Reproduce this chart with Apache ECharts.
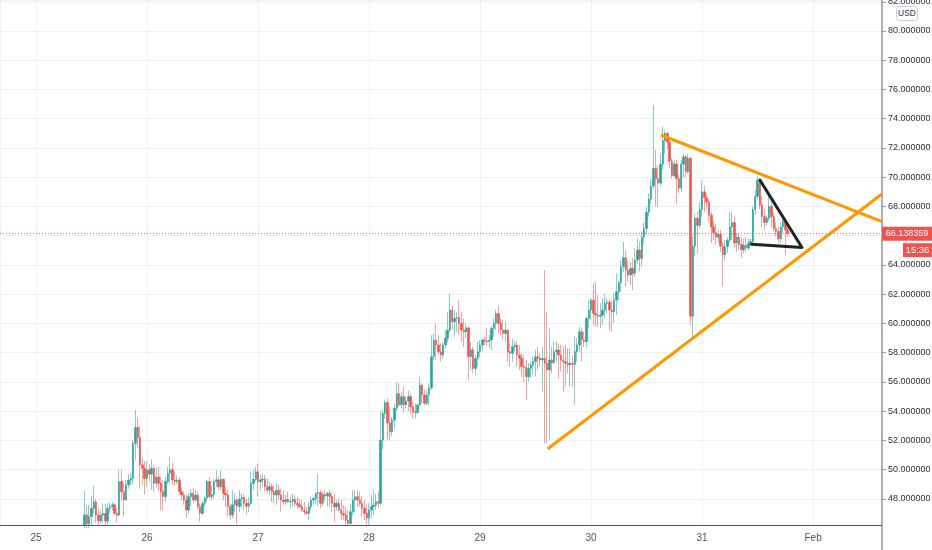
<!DOCTYPE html>
<html><head><meta charset="utf-8">
<script src="https://cdn.jsdelivr.net/npm/echarts@6/dist/echarts.min.js"></script>
<style>html,body{margin:0;padding:0;background:#fff}#c{width:932px;height:550px}</style>
</head><body><div id="c"></div>
<script>
// 30-minute candles [open, close, low, high]; hours counted from 25 Jan 00:00
const firstHour = 10.5;
const day25 = [
[46.22,46.91,46.0,48.57],[46.91,46.29,46.0,47.5],[46.29,46.8,46.0,47.6],[46.8,47.36,46.2,48.2],
[47.36,47.8,47.0,48.9],[47.8,46.9,46.35,48.0],[46.9,46.5,46.2,47.3],[46.5,46.9,46.3,47.2],
[46.9,47.0,46.4,47.7],[47.0,46.5,46.2,47.65],[46.5,47.36,46.3,47.7],[47.36,47.48,47.0,47.75],
[47.48,47.6,47.2,47.8],[47.6,47.02,46.9,47.7],[47.02,46.9,46.4,47.4],[46.9,49.2,46.8,50.0],
[49.2,48.5,47.9,50.0],[48.5,47.93,46.8,49.1],[47.93,48.96,47.9,49.3],[48.96,49.3,48.7,49.7],
[49.3,49.4,48.9,49.8],[49.4,51.8,49.0,52.0],[51.8,52.9,50.7,54.1],[52.9,52.2,51.5,53.6],
[52.2,50.33,48.7,53.0],[50.33,50.1,48.95,50.8],[50.1,49.4,48.3,50.6]
];
const day26 = [
[49.4,50.0,48.8,50.6],[50.0,49.7,49.2,50.4],[49.7,50.1,48.6,50.7],[50.1,49.07,48.5,50.3],
[49.07,49.5,48.8,50.2],[49.5,49.07,48.6,50.2],[49.07,48.5,47.25,49.5],[48.5,48.16,47.25,49.3],
[48.16,49.2,47.8,49.5],[49.2,49.76,49.0,50.2],[49.76,50.0,49.1,50.9],[50.0,49.3,48.95,50.55],
[49.3,49.2,48.9,49.9],[49.2,49.3,49.0,49.6],[49.3,48.5,48.3,49.5],[48.5,48.27,47.9,48.8],
[48.27,47.93,47.6,48.5],[47.93,47.25,46.7,48.3],[47.25,48.16,47.0,48.4],[48.16,48.39,47.5,48.65],
[48.39,47.93,47.7,48.75],[47.93,48.27,47.8,48.6],[48.27,47.48,47.3,48.5],[47.48,47.02,46.45,47.7],
[47.02,47.7,46.9,47.9],[47.7,48.05,47.5,48.2],[48.05,49.2,47.8,49.3],[49.2,48.16,48.0,49.5],
[48.16,48.3,47.9,48.9],[48.3,49.2,48.0,49.4],[49.2,49.3,48.8,49.95],[49.3,48.84,48.6,49.5],
[48.84,49.34,48.6,49.93],[49.34,48.38,47.93,49.4],[48.38,48.27,47.47,48.84],[48.27,47.47,46.79,48.6],
[47.47,46.9,46.6,47.7],[46.9,47.6,46.7,48.6],[47.6,47.9,47.1,48.4],[47.9,47.5,46.3,48.1],
[47.5,48.0,47.1,48.6],[48.0,48.1,47.4,48.4],[48.1,47.7,47.2,48.3],[47.7,47.5,46.9,48.0],
[47.5,47.7,47.1,48.1],[47.7,49.07,47.6,49.86],[49.07,49.34,48.6,50.0],[49.34,49.86,49.2,50.2]
];
const day27 = [
[49.86,49.18,48.16,50.43],[49.18,49.3,48.6,49.64],[49.3,49.35,48.84,49.75],[49.35,48.84,48.5,49.64],
[48.84,48.6,48.38,49.4],[48.6,48.84,48.27,49.18],[48.84,48.5,47.8,49.07],[48.5,48.27,47.7,48.95],
[48.27,48.6,47.6,49.07],[48.6,48.27,47.93,48.95],[48.27,47.93,47.13,48.72],[47.93,47.81,47.6,48.61],
[47.81,47.97,47.6,48.3],[47.97,47.81,47.7,48.5],[47.81,47.84,47.35,48.16],[47.84,47.97,47.47,48.38],
[47.97,47.7,47.47,48.27],[47.7,47.6,47.36,48.16],[47.6,47.47,47.36,48.04],[47.47,47.24,47.13,47.93],
[47.24,47.13,46.9,47.81],[47.13,47.02,46.9,47.47],[47.02,47.47,46.56,47.81],[47.47,47.93,47.24,48.16],
[47.93,48.04,47.58,48.16],[48.04,48.38,47.7,48.45],[48.38,48.43,47.47,49.75],[48.43,47.7,47.36,48.61],
[47.7,48.3,47.5,48.5],[48.3,48.2,47.9,48.6],[48.2,48.38,47.5,48.5],[48.38,48.16,47.47,48.61],
[48.16,47.7,47.13,48.5],[47.7,47.47,46.45,48.38],[47.47,47.7,47.2,47.9],[47.7,47.24,47.13,48.04],
[47.24,47.02,46.56,47.93],[47.02,46.9,46.56,47.58],[46.9,46.56,46.22,47.47],[46.56,46.33,46.1,47.24],
[46.33,47.13,46.2,47.7],[47.13,47.93,46.9,48.61],[47.93,48.16,47.02,48.61],[48.16,47.93,47.47,48.61],
[47.93,47.7,47.47,48.5],[47.7,47.36,46.79,48.16],[47.36,47.02,46.56,47.93],[47.02,46.7,46.1,47.6]
];
const day28 = [
[46.7,47.24,46.2,47.7],[47.24,47.47,46.7,48.27],[47.47,47.58,46.9,48.61],[47.58,47.81,47.24,48.38],
[47.81,47.7,47.36,48.5],[47.7,52.03,47.6,54.0],[52.03,53.85,51.35,54.1],[53.85,54.6,53.5,54.8],
[54.6,53.2,52.03,54.9],[53.2,52.6,52.03,54.3],[52.6,53.4,52.3,53.6],[53.4,54.2,52.8,54.5],
[54.2,55.2,54.0,56.0],[55.2,54.45,54.3,55.9],[54.45,55.0,54.2,55.3],[55.0,54.45,53.95,55.7],
[54.45,54.7,54.2,55.0],[54.7,55.0,54.0,55.4],[55.0,54.3,53.85,55.2],[54.3,53.97,53.51,54.65],
[53.97,53.9,53.5,54.5],[53.9,54.42,53.85,54.54],[54.42,55.79,54.3,56.36],[55.79,55.11,54.54,55.9],
[55.11,54.54,54.4,55.5],[54.54,55.11,54.42,55.45],[55.11,55.6,54.42,55.9],[55.6,57.73,55.45,59.21],
[57.73,58.87,57.5,59.3],[58.87,58.53,57.5,60.01],[58.53,58.07,57.84,59.21],[58.07,57.84,57.39,58.64],
[57.84,58.53,57.6,58.75],[58.53,58.98,58.3,59.55],[58.98,59.55,58.7,60.8],[59.55,60.92,59.4,62.06],
[60.92,60.12,59.55,61.26],[60.12,60.35,59.1,60.92],[60.35,60.4,59.4,60.8],[60.4,60.01,59.21,61.6],
[60.01,59.55,58.75,60.8],[59.55,59.44,58.41,60.35],[59.44,59.7,59.0,60.0],[59.7,57.73,56.13,59.78],
[57.73,58.2,56.82,58.75],[58.2,56.93,56.6,58.4],[56.93,57.61,56.47,57.84],[57.61,58.07,57.04,58.75]
];
const day29 = [
[58.07,58.53,57.73,58.87],[58.53,58.87,58.07,58.98],[58.87,58.8,58.5,59.1],[58.8,58.75,58.41,59.67],
[58.75,58.87,58.3,59.21],[58.87,59.67,58.18,59.8],[59.67,60.01,59.1,60.35],[60.01,60.69,59.55,60.92],
[60.69,60.01,59.32,61.2],[60.01,59.55,59.21,60.35],[59.55,59.32,58.87,60.24],[59.32,59.55,58.75,60.1],
[59.55,58.07,57.39,59.6],[58.07,57.96,57.04,58.64],[57.96,58.41,57.39,58.98],[58.41,58.53,58.1,58.8],
[58.53,57.84,57.05,58.76],[57.84,57.62,56.82,58.53],[57.62,57.05,56.36,57.96],[57.05,57.0,56.02,57.84],
[57.0,56.36,54.77,57.5],[56.36,56.93,56.02,57.28],[56.93,57.16,56.25,57.39],[57.16,57.39,56.48,57.73],
[57.39,57.73,56.36,58.19],[57.73,57.62,56.82,58.41],[57.62,57.5,57.05,57.96],[57.5,57.62,55.34,58.41],
[57.62,57.28,51.8,63.66],[57.28,56.82,51.8,60.8],[56.82,57.5,52.03,59.67],[57.5,57.3,56.59,58.41],
[57.3,58.07,57.28,58.76],[58.07,58.19,57.39,58.76],[58.19,57.84,56.25,58.64],[57.84,57.5,56.7,58.53],
[57.5,57.39,55.34,58.41],[57.39,57.28,55.68,58.53],[57.28,57.16,56.59,58.3],[57.16,57.28,55.68,58.3],
[57.28,57.2,55.68,57.84],[57.2,58.07,54.43,59.1],[58.07,58.53,57.39,58.98],[58.53,59.44,58.07,59.78],
[59.44,58.87,57.39,59.67],[58.87,58.76,58.41,59.44],[58.76,60.35,58.3,60.47],[60.35,60.92,59.67,61.6]
];
const day30 = [
[60.92,61.6,60.24,61.72],[61.6,60.69,59.9,62.75],[60.69,60.58,59.78,62.86],[60.58,60.5,59.78,61.95],
[60.5,60.58,59.67,61.38],[60.58,60.92,59.9,61.72],[60.92,61.38,60.35,62.06],[61.38,61.45,60.69,61.72],
[61.45,60.92,59.55,61.72],[60.92,60.81,59.44,61.6],[60.81,61.6,60.01,62.06],[61.6,62.17,60.58,63.43],
[62.17,62.8,61.6,62.97],[62.8,63.88,62.17,64.34],[63.88,64.5,63.54,65.6],[64.5,63.66,62.52,65.02],
[63.66,63.31,62.86,64.23],[63.31,63.77,62.63,64.23],[63.77,63.43,62.29,64.45],[63.43,64.34,63.2,65.14],
[64.34,65.02,64.1,65.82],[65.02,64.45,63.54,65.6],[64.45,65.9,63.9,66.3],[65.9,66.5,65.4,66.9],
[66.5,67.6,66.1,68.0],[67.6,68.5,67.3,68.9],[68.5,69.4,68.2,69.9],[69.4,70.6,69.2,74.94],
[70.6,69.9,68.0,71.86],[69.9,69.6,67.99,70.8],[69.6,70.9,69.4,71.6],[70.9,72.5,70.5,73.46],
[72.5,73.0,71.6,73.2],[73.0,72.4,71.9,73.1],[72.4,71.1,70.6,72.6],[71.1,70.1,69.9,71.3],
[70.1,70.9,70.0,71.2],[70.9,69.9,68.2,71.2],[69.9,69.25,68.9,70.2],[69.25,70.9,69.0,71.2],
[70.9,71.4,70.0,71.6],[71.4,70.4,70.0,71.5],[70.4,71.3,70.2,71.6],[71.3,60.5,59.9,71.4],
[60.5,65.3,58.9,66.0],[65.3,67.2,64.6,67.5],[67.2,66.7,64.8,67.65],[66.7,67.8,66.5,68.3]
];
const day31 = [
[67.8,69.0,67.3,69.8],[69.0,68.6,67.6,69.4],[68.6,68.3,67.8,68.9],[68.3,67.4,66.9,68.5],
[67.4,66.6,65.5,67.6],[66.6,66.2,65.7,67.0],[66.2,65.9,65.4,66.8],[65.9,66.1,65.5,66.4],
[66.1,65.3,64.9,66.4],[65.3,64.7,62.6,65.6],[64.7,65.25,64.3,65.7],[65.25,65.7,64.8,65.9],
[65.7,66.6,65.5,67.65],[66.6,66.9,65.7,67.6],[66.9,65.5,65.2,67.3],[65.5,65.9,64.9,66.2],
[65.9,65.4,65.0,66.2],[65.4,65.05,64.5,65.9],[65.05,65.35,64.8,65.8],[65.35,65.15,64.9,65.9],
[65.15,65.5,65.0,65.8],[65.5,65.6,65.3,65.8],[65.6,67.8,65.4,68.0],[67.8,68.7,67.4,69.1],
[68.7,69.8,68.5,70.04],[69.8,68.1,67.8,69.9],[68.1,67.3,66.6,68.7],[67.3,66.9,66.4,67.8],
[66.9,67.2,66.7,67.4],[67.2,68.0,67.0,68.9],[68.0,67.3,66.6,68.4],[67.3,66.5,66.3,67.6],
[66.5,66.3,66.0,66.9],[66.3,65.8,65.5,66.6],[65.8,66.6,65.5,66.9],[66.6,67.0,66.2,67.3],
[67.0,66.4,64.68,67.1],[66.4,66.138359,65.9,66.8]
];
const dayLabels = ['25','26','27','28','29','30','31','Feb'];
const lastPrice = 66.138359;
const countdown = '15:36';
const currency = 'USD';
// drawings [hour, price]
const upperTrend = [[135.1,72.89],[182.9,66.97]];
const lowerTrend = [[110.6,51.42],[182.9,68.85]];
const blackTriangle = [[154.7,65.42],[165.6,65.2],[156.5,69.81]];

const ohlc = [].concat(day25, day26, day27, day28, day29, day30, day31);
const wickData = ohlc.map((d, i) => [firstHour + i * 0.5, d[0], d[1], d[2], d[3]]);
const bodyData = ohlc.map((d, i) => [firstHour + i * 0.5, d[0], d[1], Math.min(d[0], d[1]), Math.max(d[0], d[1])]);

const UP = '#26a69a', DOWN = '#ef5350';
const FONT = 'Liberation Sans, Arial, sans-serif';
const chart = echarts.init(document.getElementById('c'), null, {renderer: 'canvas'});
chart.setOption({
  animation: false,
  backgroundColor: '#ffffff',
  grid: {left: 0, right: 50, top: 0, bottom: 25, containLabel: false, outerBoundsMode: 'none'},
  xAxis: {
    type: 'value', min: -7.78, max: 182.9, minInterval: 24, maxInterval: 24, splitNumber: 8,
    axisLine: {show: true, onZero: false, lineStyle: {color: '#50535e', width: 1}},
    axisTick: {show: false},
    axisLabel: {
      color: '#50535e', fontFamily: FONT, fontSize: 10, margin: 8,
      showMinLabel: false, showMaxLabel: false,
      formatter: v => { const d = v / 24; return (Math.abs(d - Math.round(d)) < 1e-6 && d >= 0 && d < dayLabels.length) ? dayLabels[Math.round(d)] : ''; }
    },
    splitLine: {show: true, lineStyle: {color: '#edf0f5', width: 1}}
  },
  yAxis: {
    type: 'value', position: 'right', min: 46.22, max: 82.12, minInterval: 2, maxInterval: 2, splitNumber: 18,
    axisLine: {show: true, onZero: false, lineStyle: {color: '#9598a1', width: 1.5}},
    axisTick: {show: true, length: 4, inside: false, lineStyle: {color: '#9598a1'}},
    axisLabel: {color: '#2a2e39', fontFamily: FONT, fontSize: 9, margin: 6, showMinLabel: false, showMaxLabel: false,
      formatter: v => v.toFixed(6)},
    splitLine: {show: true, lineStyle: {color: '#edf0f5', width: 1}}
  },
  series: [
    {
      type: 'candlestick', name: 'wick', data: wickData, encode: {x: 0, y: [1, 2, 3, 4]},
      barWidth: 1, z: 2, silent: true,
      itemStyle: {color: 'rgba(38,166,154,0.55)', color0: 'rgba(239,83,80,0.55)', borderColor: 'rgba(38,166,154,0.55)', borderColor0: 'rgba(239,83,80,0.55)', borderWidth: 1}
    },
    {
      type: 'candlestick', name: 'body', data: bodyData, encode: {x: 0, y: [1, 2, 3, 4]},
      barWidth: 1.9, z: 3, silent: true,
      itemStyle: {color: UP, color0: DOWN, borderColor: UP, borderColor0: DOWN, borderWidth: 0.6},
      markLine: {
        silent: true, symbol: ['none', 'none'], label: {show: false},
        lineStyle: {color: DOWN, type: [1, 2], width: 1, opacity: 0.85},
        data: [{yAxis: lastPrice}]
      }
    },
    {type: 'line', data: upperTrend, symbol: 'none', z: 5, silent: true, lineStyle: {color: '#ff9800', width: 3}},
    {type: 'line', data: lowerTrend, symbol: 'none', z: 5, silent: true, lineStyle: {color: '#ff9800', width: 3}},
    {type: 'line', data: blackTriangle, symbol: 'none', z: 6, silent: true, lineStyle: {color: '#1e222d', width: 3, cap: 'round', join: 'round'}}
  ]
});

const py = chart.convertToPixel({yAxisIndex: 0}, lastPrice);
chart.setOption({
  graphic: [
    {type: 'line', z: 20, shape: {x1: 882, y1: 525, x2: 882, y2: 550}, style: {stroke: '#9598a1', lineWidth: 1.5}},
    {type: 'rect', z: 20, shape: {x: 896.5, y: 6.5, width: 21, height: 14, r: 3}, style: {fill: '#ffffff', stroke: '#c9ccd4', lineWidth: 1}},
    {type: 'text', z: 21, x: 907, y: 13.5, style: {text: currency, fontSize: 8.5, fontFamily: FONT, fill: '#2a2e39', align: 'center', verticalAlign: 'middle'}},
    {type: 'rect', z: 20, shape: {x: 882, y: py - 7, width: 50, height: 14}, style: {fill: '#ef5350'}},
    {type: 'text', z: 21, x: 907, y: py, style: {text: lastPrice.toFixed(6), fontSize: 9, fontFamily: FONT, fill: '#ffffff', align: 'center', verticalAlign: 'middle'}},
    {type: 'rect', z: 20, shape: {x: 903, y: py + 9.5, width: 29, height: 14}, style: {fill: '#ef5350'}},
    {type: 'text', z: 21, x: 917.5, y: py + 16.5, style: {text: countdown, fontSize: 9.5, fontFamily: FONT, fill: '#ffffff', align: 'center', verticalAlign: 'middle'}}
  ]
});
</script>
</body></html>
